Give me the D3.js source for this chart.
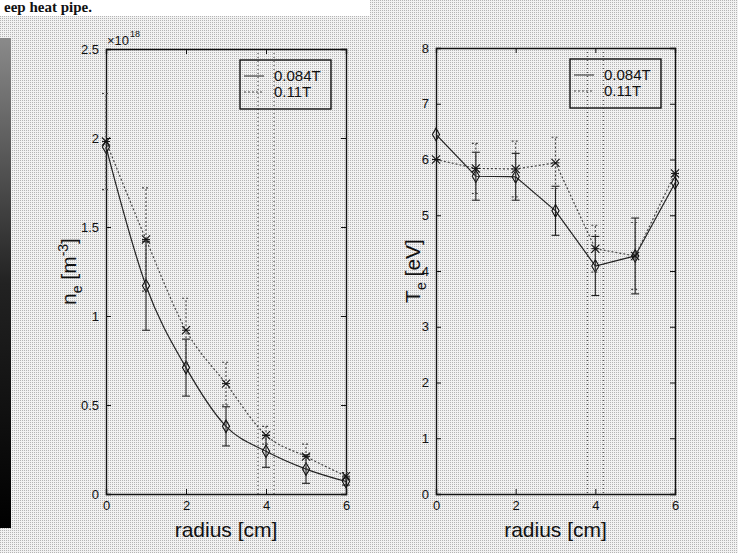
<!DOCTYPE html>
<html>
<head>
<meta charset="utf-8">
<script src="https://cdn.jsdelivr.net/npm/d3@7"></script>
<style>
	body { margin: 0; background: #fff; }
	text { font-family: 'Liberation Sans', Arial, sans-serif; fill: #111; }
</style>
</head>
<body>
<svg id="chart" width="738" height="553"></svg>
<script>
// radius positions [cm]
var radius = [0, 1, 2, 3, 4, 5, 6];
var seriesNames = ['0.084T', '0.11T'];

// density n_e [x10^18 m^-3]
var neLow = [1.95, 1.17, 0.71, 0.38, 0.24, 0.14, 0.07];      // 0.084T
var neLowErr = [0, 0.25, 0.16, 0.11, 0.09, 0.08, 0.02];
var neHigh = [1.98, 1.43, 0.92, 0.62, 0.33, 0.21, 0.10];     // 0.11T
var neHighErr = [0.27, 0.29, 0.18, 0.12, 0.05, 0.07, 0.02];

// temperature T_e [eV]
var teLow = [6.45, 5.70, 5.69, 5.08, 4.09, 4.27, 5.58];      // 0.084T
var teLowErr = [0, 0.43, 0.42, 0.44, 0.53, 0.68, 0];
var teHigh = [6.00, 5.84, 5.83, 5.94, 4.40, 4.27, 5.75];     // 0.11T
var teHighErr = [0, 0.45, 0.50, 0.46, 0.42, 0.60, 0];

var xTicks = [0, 2, 4, 6];
var neTicks = [0, 0.5, 1, 1.5, 2, 2.5];
var teTicks = [0, 1, 2, 3, 4, 5, 6, 7, 8];
var markLines = [3.8, 4.2]; // dotted vertical markers

var svg = d3.select('#chart');

// halftone-ish scan background
var defs = svg.append('defs');
var pat = defs.append('pattern').attr('id', 'dots')
	.attr('width', 2).attr('height', 2).attr('patternUnits', 'userSpaceOnUse');
pat.append('rect').attr('width', 2).attr('height', 2).attr('fill', '#f2f2f2');
pat.append('rect').attr('width', 1).attr('height', 1).attr('fill', '#b4b4b4');

var grad = defs.append('linearGradient').attr('id', 'strip')
	.attr('x1', 0).attr('y1', 0).attr('x2', 0).attr('y2', 1);
grad.append('stop').attr('offset', '0%').attr('stop-color', '#8a8a8a');
grad.append('stop').attr('offset', '50%').attr('stop-color', '#222');
grad.append('stop').attr('offset', '100%').attr('stop-color', '#000');

svg.append('rect').attr('width', 738).attr('height', 553).attr('fill', 'url(#dots)');
svg.append('rect').attr('x', 0).attr('y', 0).attr('width', 370).attr('height', 16).attr('fill', '#fff');
svg.append('text').attr('x', 4).attr('y', 12)
	.style('font-family', "'Liberation Serif', 'DejaVu Serif', serif")
	.style('font-weight', 'bold').style('font-size', '15px')
	.text('eep heat pipe.');
svg.append('rect').attr('x', 0).attr('y', 38).attr('width', 11).attr('height', 490).attr('fill', 'url(#strip)');

function panel(opts) {
	var x = d3.scaleLinear().domain([0, 6]).range([opts.left, opts.right]);
	var y = d3.scaleLinear().domain(opts.yDomain).range([opts.bottom, opts.top]);
	var g = svg.append('g');

	// dotted vertical markers
	g.selectAll('line.mark').data(markLines).enter().append('line')
		.attr('x1', function(d) { return x(d); }).attr('x2', function(d) { return x(d); })
		.attr('y1', opts.top).attr('y2', opts.bottom)
		.attr('stroke', '#333').attr('stroke-width', 1).attr('stroke-dasharray', '1,3');

	// axes, ticks pointing inward, mirrored on the far sides
	var axB = g.append('g').attr('transform', 'translate(0,' + opts.bottom + ')')
		.call(d3.axisBottom(x).tickValues(xTicks).tickSize(-5).tickPadding(7).tickFormat(d3.format('d')));
	var axT = g.append('g').attr('transform', 'translate(0,' + opts.top + ')')
		.call(d3.axisTop(x).tickValues(xTicks).tickSize(-5).tickFormat(''));
	var axL = g.append('g').attr('transform', 'translate(' + opts.left + ',0)')
		.call(d3.axisLeft(y).tickValues(opts.yTicks).tickSize(-5).tickPadding(7).tickFormat(d3.format('')));
	var axR = g.append('g').attr('transform', 'translate(' + opts.right + ',0)')
		.call(d3.axisRight(y).tickValues(opts.yTicks).tickSize(-5).tickFormat(''));
	[axB, axT, axL, axR].forEach(function(a) {
		a.select('.domain').attr('stroke', '#111').attr('stroke-width', 1.4);
		a.selectAll('.tick line').attr('stroke', '#111');
		a.selectAll('.tick text').style('font-size', '13px').attr('fill', '#111')
			.style('font-family', "'Liberation Sans', Arial, sans-serif");
	});

	var series = [
		{ vals: opts.low, err: opts.lowErr, dash: null, color: '#222', mark: 'diamond' },
		{ vals: opts.high, err: opts.highErr, dash: '2,2', color: '#444', mark: 'star' }
	];

	var line = d3.line()
		.x(function(d, i) { return x(radius[i]); })
		.y(function(d) { return y(d); })
		.curve(opts.curve);

	series.forEach(function(s) {
		// error bars
		var eb = g.append('g');
		radius.forEach(function(r, i) {
			if (!s.err[i]) return;
			var cx = x(r), y0 = y(s.vals[i] - s.err[i]), y1 = y(s.vals[i] + s.err[i]);
			eb.append('line').attr('x1', cx).attr('x2', cx).attr('y1', y0).attr('y2', y1);
			eb.append('line').attr('x1', cx - 4).attr('x2', cx + 4).attr('y1', y0).attr('y2', y0);
			eb.append('line').attr('x1', cx - 4).attr('x2', cx + 4).attr('y1', y1).attr('y2', y1);
		});
		eb.selectAll('line').attr('stroke', s.color).attr('stroke-width', 1.1)
			.attr('stroke-dasharray', s.dash);

		g.append('path').datum(s.vals)
			.attr('d', line)
			.attr('fill', 'none').attr('stroke', s.color).attr('stroke-width', 1.2)
			.attr('stroke-dasharray', s.dash);

		var sym = s.mark == 'diamond'
			? d3.symbol().type(d3.symbolDiamond).size(45)
			: d3.symbol().type(d3.symbolTimes).size(45);
		g.selectAll(null).data(s.vals).enter().append('path')
			.attr('transform', function(d, i) { return 'translate(' + x(radius[i]) + ',' + y(d) + ')'; })
			.attr('d', sym)
			.attr('fill', 'none').attr('stroke', '#111').attr('stroke-width', 1.1);
		if (s.mark == 'star') {
			g.selectAll(null).data(s.vals).enter().append('line')
				.attr('x1', function(d, i) { return x(radius[i]) - 4; })
				.attr('x2', function(d, i) { return x(radius[i]) + 4; })
				.attr('y1', function(d) { return y(d); }).attr('y2', function(d) { return y(d); })
				.attr('stroke', '#111');
		}
	});

	// legend
	var lg = g.append('g').attr('transform', 'translate(' + opts.legendX + ',' + (opts.top + 11) + ')');
	lg.append('rect').attr('width', 91).attr('height', 49)
		.attr('fill', 'none').attr('stroke', '#111').attr('stroke-width', 1.4);
	seriesNames.forEach(function(name, i) {
		var ly = 16 + i * 16;
		lg.append('line').attr('x1', 4).attr('x2', 24).attr('y1', ly).attr('y2', ly)
			.attr('stroke', series[i].color).attr('stroke-dasharray', series[i].dash);
		lg.append('text').attr('x', 34).attr('y', ly + 5).style('font-size', '15px').text(name);
	});

	// axis labels
	g.append('text').attr('x', (opts.left + opts.right) / 2).attr('y', 537)
		.attr('text-anchor', 'middle').style('font-size', '21px').text('radius [cm]');
	var yl = g.append('text')
		.attr('transform', 'translate(' + opts.labelX + ',' + ((opts.top + opts.bottom) / 2) + ') rotate(-90)')
		.attr('text-anchor', 'middle').style('font-size', '21px');
	yl.append('tspan').text(opts.labelMain);
	yl.append('tspan').attr('dy', 6).style('font-size', '14px').text('e');
	yl.append('tspan').attr('dy', -6).text(' [' + opts.labelUnit);
	if (opts.labelSup) {
		yl.append('tspan').attr('dy', -8).style('font-size', '14px').text(opts.labelSup);
		yl.append('tspan').attr('dy', 8).text(']');
	} else {
		yl.append('tspan').text(']');
	}
	return g;
}

var left = panel({
	left: 106, right: 346, top: 49, bottom: 494,
	yDomain: [0, 2.5], yTicks: neTicks,
	low: neLow, lowErr: neLowErr, high: neHigh, highErr: neHighErr,
	curve: d3.curveMonotoneX, legendX: 240,
	labelX: 76, labelMain: 'n', labelUnit: 'm', labelSup: '-3'
});
left.append('text').attr('x', 107).attr('y', 45).style('font-size', '13px').text('\u00d710');
left.append('text').attr('x', 130).attr('y', 37).style('font-size', '9px').text('18');

panel({
	left: 436, right: 675, top: 48, bottom: 494,
	yDomain: [0, 8], yTicks: teTicks,
	low: teLow, lowErr: teLowErr, high: teHigh, highErr: teHighErr,
	curve: d3.curveLinear, legendX: 570,
	labelX: 420, labelMain: 'T', labelUnit: 'eV', labelSup: null
});
</script>
</body>
</html>
